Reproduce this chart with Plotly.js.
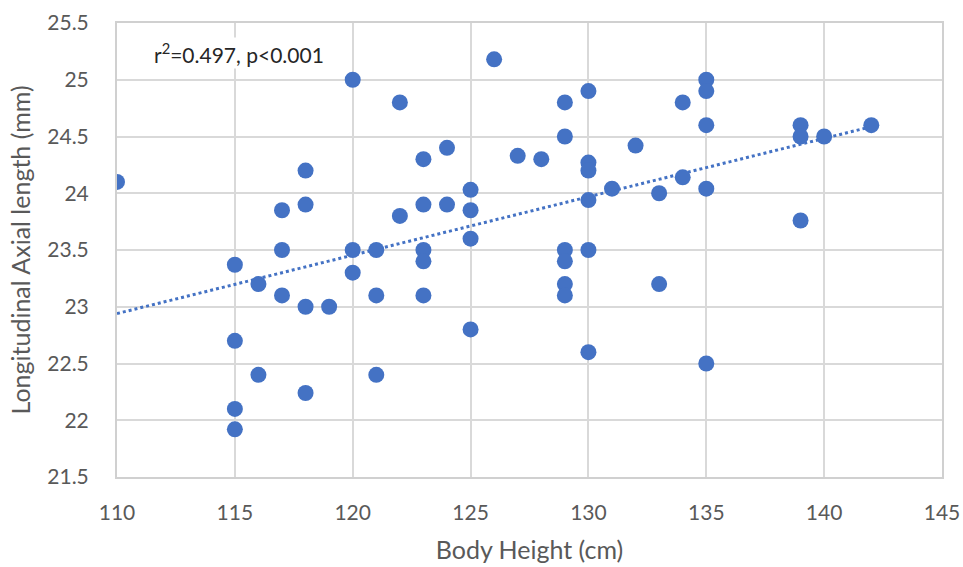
<!DOCTYPE html>
<html>
<head>
<meta charset="utf-8">
<script src="https://cdn.plot.ly/plotly-3.0.1.min.js"></script>
<style>html,body{margin:0;padding:0;background:#fff;}#chart{width:963px;height:567px;}</style>
</head>
<body>
<div id="chart"></div>
<script>
const bodyHeight = [110,115,115,115,115,116,116,117,117,117,118,118,118,118,119,120,120,120,121,121,121,122,122,123,123,123,123,123,124,124,125,125,125,125,126,127,128,129,129,129,129,129,129,130,130,130,130,130,130,131,132,133,133,134,134,135,135,135,135,135,139,139,139,140,142];
const axialLength = [24.1,23.37,22.7,22.1,21.92,23.2,22.4,23.85,23.5,23.1,24.2,23.9,23.0,22.24,23.0,25.0,23.5,23.3,23.5,23.1,22.4,24.8,23.8,24.3,23.9,23.5,23.4,23.1,24.4,23.9,24.03,23.85,23.6,22.8,25.18,24.33,24.3,24.8,24.5,23.5,23.4,23.2,23.1,24.9,24.27,24.2,23.94,23.5,22.6,24.04,24.42,24.0,23.2,24.8,24.14,25.0,24.9,24.6,24.04,22.5,24.6,24.5,23.76,24.5,24.6];
const xTicks = [110,115,120,125,130,135,140,145];
const yTicks = [21.5,22,22.5,23,23.5,24,24.5,25,25.5];

// least-squares linear trendline from the data
const n = bodyHeight.length;
const mx = bodyHeight.reduce((a,b)=>a+b,0)/n;
const my = axialLength.reduce((a,b)=>a+b,0)/n;
let sxy=0, sxx=0;
for (let i=0;i<n;i++){ sxy += (bodyHeight[i]-mx)*(axialLength[i]-my); sxx += (bodyHeight[i]-mx)**2; }
const slope = sxy/sxx, intercept = my - slope*mx;
const trendX = [Math.min(...bodyHeight), Math.max(...bodyHeight)];
const trendY = trendX.map(x=>intercept+slope*x);

const blue = '#4472C4';
const grey = '#595959';
const font = 'Lato, "Open Sans", sans-serif';

const traces = [
  {x: trendX, y: trendY, mode:'lines', type:'scatter', line:{color:blue, width:3, dash:'dot'}, hoverinfo:'skip'},
  {x: bodyHeight, y: axialLength, mode:'markers', type:'scatter', marker:{color:blue, size:16}}
];

const layout = {
  width:963, height:567,
  margin:{l:117, r:21, t:23, b:90},
  paper_bgcolor:'#fff', plot_bgcolor:'#fff',
  showlegend:false,
  font:{family:font, color:grey, size:21},
  xaxis:{range:[110,145], tickvals:xTicks, ticktext:xTicks.map(String), showgrid:true, gridcolor:'#d9d9d9', gridwidth:2,
         zeroline:false, showline:true, linecolor:'#d0d0d0', linewidth:2, mirror:true, ticks:'', ticklen:0,
         ticklabelstandoff:16,
         tickfont:{size:21, color:grey, family:font},
         title:{text:'Body Height (cm)', font:{size:25, color:grey, family:font}, standoff:18}},
  yaxis:{range:[21.5,25.5], tickvals:yTicks, ticktext:yTicks.map(String), showgrid:true, gridcolor:'#d9d9d9', gridwidth:2,
         zeroline:false, showline:true, linecolor:'#d0d0d0', linewidth:2, mirror:true, ticks:'', ticklen:0,
         ticklabelstandoff:22,
         tickfont:{size:21, color:grey, family:font},
         title:{text:'Longitudinal Axial length (mm)', font:{size:25, color:grey, family:font}, standoff:10}},
  annotations:[{xref:'paper', yref:'paper', x:0.043, y:0.935, xanchor:'left', yanchor:'middle', showarrow:false,
    text:'r<sup>2</sup>=0.497, p<0.001', font:{size:21, color:'#262626', family:font}, bgcolor:'#fff'}]
};

Plotly.newPlot('chart', traces, layout, {displayModeBar:false, staticPlot:true});
</script>
</body>
</html>
